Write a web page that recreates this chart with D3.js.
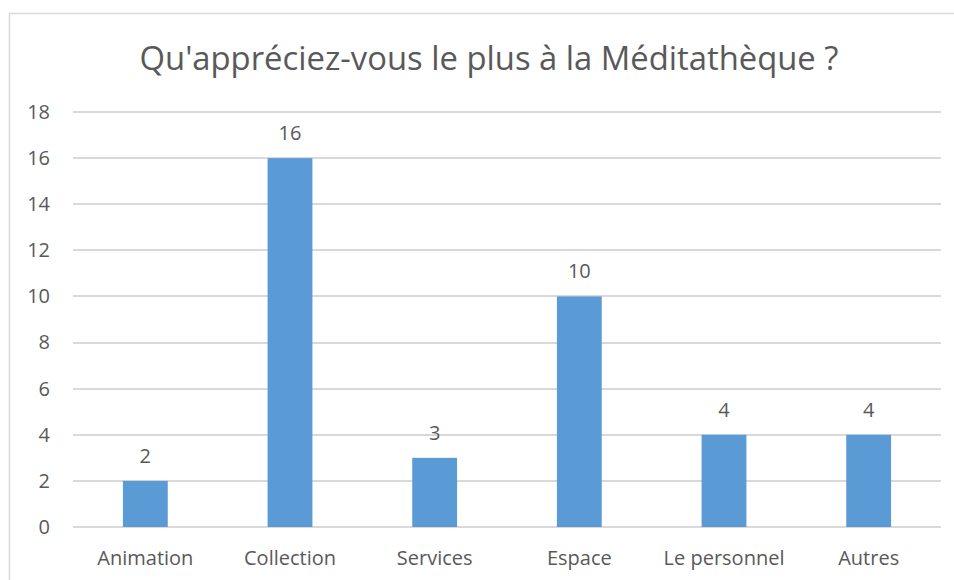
<!DOCTYPE html>
<html>
<head>
<meta charset="utf-8">
<script src="https://cdn.jsdelivr.net/npm/d3@7"></script>
<style>
  body{margin:0;background:#fff;}
  text{font-family:"Open Sans", "Noto Sans", sans-serif;fill:#595959;}
</style>
</head>
<body>
<div class="chart"></div>
<script>
var title="Qu'appréciez-vous le plus à la Méditathèque ?";
var categories=["Animation","Collection","Services","Espace","Le personnel","Autres"];
var values=[2,16,3,10,4,4];
var yTicks=[0,2,4,6,8,10,12,14,16,18];

var W=954, H=580;
var svg=d3.select(".chart").append("svg")
  .attr("width", W)
  .attr("height", H);

// chart frame (cut off on the right and bottom, like the picture)
svg.append("rect")
  .attr("x", 9.5)
  .attr("y", 13.5)
  .attr("width", 1000)
  .attr("height", 1000)
  .attr("fill", "none")
  .attr("stroke", "#d9d9d9")
  .attr("stroke-width", 1.5);

var plotL=73, plotR=941, plotT=112, plotB=527;

var x=d3.scaleBand()
  .domain(categories)
  .range([plotL, plotR])
  .paddingInner(0.69)
  .paddingOuter(0.345);

var y=d3.scaleLinear()
  .domain([0,18])
  .range([plotB, plotT]);

// gridlines
svg.append("g")
  .selectAll("line")
  .data(yTicks)
  .enter()
  .append("line")
  .attr("x1", plotL)
  .attr("x2", plotR)
  .attr("y1", function(d){return Math.round(y(d))})
  .attr("y2", function(d){return Math.round(y(d))})
  .attr("stroke", "#d9d9d9")
  .attr("stroke-width", 2);

// y axis labels
var yAxis=d3.axisLeft(y).tickValues(yTicks).tickSize(0).tickPadding(0);
var ya=svg.append("g")
  .attr("transform", "translate(50,0)")
  .call(yAxis);
ya.select(".domain").remove();
ya.selectAll("text")
  .attr("font-size", "20px")
  .attr("fill", "#595959")
  .style("font-family", "\"Open Sans\", sans-serif");

// bars
svg.append("g")
  .selectAll("rect")
  .data(values)
  .enter()
  .append("rect")
  .attr("x", function(d,i){return x(categories[i])})
  .attr("y", function(d){return y(d)})
  .attr("width", x.bandwidth())
  .attr("height", function(d){return y(0)-y(d)})
  .attr("fill", "#5b9bd5");

// value labels
svg.append("g")
  .selectAll("text")
  .data(values)
  .enter()
  .append("text")
  .attr("x", function(d,i){return x(categories[i])+x.bandwidth()/2})
  .attr("y", function(d){return y(d)-18})
  .attr("text-anchor", "middle")
  .attr("font-size", "20px")
  .text(function(d){return d});

// x axis labels
var xAxis=d3.axisBottom(x).tickSize(0).tickPadding(0);
var xa=svg.append("g")
  .attr("transform", "translate(0,"+(plotB+24)+")")
  .call(xAxis);
xa.select(".domain").remove();
xa.selectAll("text")
  .attr("font-size", "20px")
  .attr("fill", "#595959")
  .style("font-family", "\"Open Sans\", sans-serif");

// title
svg.append("text")
  .attr("x", 489)
  .attr("y", 70)
  .attr("text-anchor", "middle")
  .attr("font-size", "32.8px")
  .text(title);
</script>
</body>
</html>
